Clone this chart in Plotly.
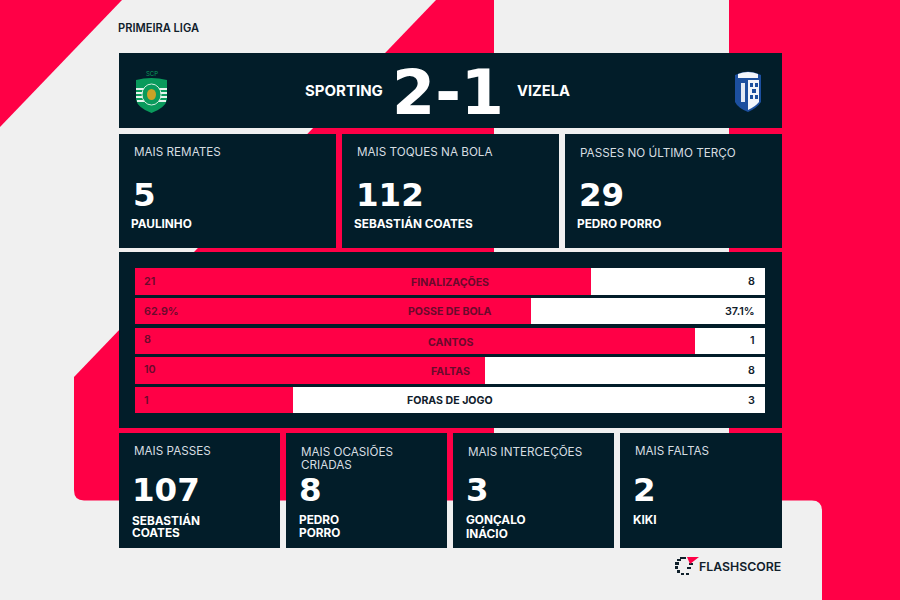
import plotly.graph_objects as go

RED = "#ff0046"
NAVY = "#021d29"
LIGHT = "#f0f0f0"
FONT = "Inter"
DIGITS = "DejaVu Sans"

stat_names = ["FINALIZAÇÕES", "POSSE DE BOLA", "CANTOS", "FALTAS", "FORAS DE JOGO"]
home_values = [21, 62.9, 8, 10, 1]
away_values = [8, 37.1, 1, 8, 3]
home_labels = ["21", "62.9%", "8", "10", "1"]
away_labels = ["8", "37.1%", "1", "8", "3"]

home_team = "SPORTING"
away_team = "VIZELA"
score = "2-1"
league = "PRIMEIRA LIGA"

top_titles = ["MAIS REMATES", "MAIS TOQUES NA BOLA", "PASSES NO ÚLTIMO TERÇO"]
top_numbers = ["5", "112", "29"]
top_players = ["PAULINHO", "SEBASTIÁN COATES", "PEDRO PORRO"]

bottom_titles = [["MAIS PASSES"], ["MAIS OCASIÕES", "CRIADAS"], ["MAIS INTERCEÇÕES"], ["MAIS FALTAS"]]
bottom_numbers = ["107", "8", "3", "2"]
bottom_players = [["SEBASTIÁN", "COATES"], ["PEDRO", "PORRO"], ["GONÇALO", "INÁCIO"], ["KIKI"]]


# picture pixels to paper coordinates
def px(x):
    return x / 900


def py(y):
    return 1 - y / 600


def path(cmds, color, line=None):
    parts = []
    for c in cmds:
        if len(c) == 1:
            parts.append(c[0])
        else:
            nums = [px(v) if i % 2 == 0 else py(v) for i, v in enumerate(c[1:])]
            parts.append(c[0] + " " + " ".join(f"{n:.5f}" for n in nums))
    return dict(type="path", path=" ".join(parts), xref="paper", yref="paper",
                fillcolor=color, line=dict(width=0) if line is None else line, layer="below")


def rect(x0, y0, x1, y1, color):
    return dict(type="rect", xref="paper", yref="paper", x0=px(x0), x1=px(x1), y0=py(y1), y1=py(y0),
                fillcolor=color, line=dict(width=0), layer="below")


shapes = [
    path([("M", 0, 0), ("L", 122, 0), ("L", 0, 127), ("Z",)], RED),
    path([("M", 436, 0), ("L", 494, 0), ("L", 494, 500.5), ("L", 84, 500.5), ("Q", 74, 500.5, 74, 490),
          ("L", 74, 377), ("Z",)], RED),
    path([("M", 729, 0), ("L", 900, 0), ("L", 900, 600), ("L", 822, 600), ("L", 822, 511),
          ("Q", 822, 500.5, 812, 500.5), ("L", 729, 500.5), ("Z",)], RED),
    rect(119, 53, 782, 128, NAVY),
    rect(119, 252, 782, 428, NAVY),
]

top_x = [(119, 336), (342, 559), (565, 782)]
bottom_x = [(119, 280), (286, 447), (453, 614), (620, 782)]
for x0, x1 in top_x:
    shapes.append(rect(x0, 134, x1, 248, NAVY))
for x0, x1 in bottom_x:
    shapes.append(rect(x0, 433, x1, 548, NAVY))

# sporting crest
GREEN = "#0a9a5c"
shapes += [
    path([("M", 136, 80), ("Q", 151, 76, 167, 80), ("L", 167, 100), ("Q", 165, 108, 151.5, 113),
          ("Q", 138, 108, 136, 100), ("Z",)], GREEN),
    rect(136, 88, 167, 90, "#e8f4ee"),
    rect(136, 92, 167, 94, "#e8f4ee"),
    rect(136, 96, 167, 98, "#e8f4ee"),
    rect(137, 100, 166, 102, "#e8f4ee"),
    dict(type="circle", xref="paper", yref="paper", x0=px(142), x1=px(161), y0=py(105), y1=py(84),
         fillcolor=GREEN, line=dict(color="#d5eee0", width=1), layer="below"),
    dict(type="circle", xref="paper", yref="paper", x0=px(147), x1=px(156), y0=py(100), y1=py(89),
         fillcolor="#c9a227", line=dict(width=0), layer="below"),
]

# vizela crest
BLUE = "#1c4f9e"
shapes += [
    path([("M", 735, 75), ("Q", 748, 68, 761, 75), ("L", 761, 102), ("Q", 757, 108, 748, 112),
          ("Q", 738, 108, 735, 102), ("Z",)], BLUE),
    path([("M", 748, 80), ("L", 759, 80), ("L", 759, 102), ("Q", 755, 107, 748, 110), ("Z",)], "#f2f5fa"),
    path([("M", 738, 74), ("Q", 748, 70, 758, 74), ("L", 758, 78), ("L", 738, 78), ("Z",)], "#f2f5fa"),
    rect(741, 83, 745, 102, "#e3e9f3"),
    rect(750, 83, 753, 87, BLUE),
    rect(755, 83, 758, 87, BLUE),
    rect(752, 89, 756, 93, BLUE),
    rect(750, 95, 753, 99, BLUE),
    rect(755, 95, 758, 99, BLUE),
]

# flashscore mark: broken ring and red flag
for x0, y0, x1, y1 in [(675, 566, 678, 569), (677, 570, 680, 573), (681, 573, 684, 575), (686, 573, 689, 575),
                       (675, 562, 679, 565), (677, 559, 681, 561), (680, 557, 686, 559), (689, 563, 693, 565),
                       (687, 567, 691, 569)]:
    shapes.append(rect(x0, y0, x1, y1, "#10202b"))
shapes.append(path([("M", 687, 557), ("L", 699, 557), ("L", 690, 564), ("Z",)], RED))


def text(x, y, s, size, color="#ffffff", weight=400, anchor="left", family=FONT):
    return dict(text=s, x=px(x), y=py(y), xref="paper", yref="paper", showarrow=False, xanchor=anchor,
                yanchor="middle", align=anchor, font=dict(family=family, size=size, color=color, weight=weight))


annotations = [
    text(116, 28, league, 11.1, "#10202b", 600),
    text(385, 91, home_team, 15, "#ffffff", 700, "right"),
    text(515, 91, away_team, 14.7, "#ffffff", 700),
    text(448, 92, score, 62, "#ffffff", 700, "center", DIGITS),
    text(151.5, 73.5, "SCP", 6, GREEN, 400, "center"),
    text(697, 566, "FLASHSCORE", 12.3, "#10202b", 600),
]

for i in range(3):
    x0 = top_x[i][0]
    annotations.append(text(x0 + 13, 152, top_titles[i], 11.7, "#d6dde1"))
    annotations.append(text(x0 + 12, 195, top_numbers[i], 32.5, "#ffffff", 700, family=DIGITS))
    annotations.append(text(x0 + 10, 224, top_players[i], 11.8, "#ffffff", 700))

for i in range(4):
    x0 = bottom_x[i][0]
    for j, line in enumerate(bottom_titles[i]):
        annotations.append(text(x0 + 12.5, 451 + 14 * j, line, 11.7, "#d6dde1"))
    annotations.append(text(x0 + 11, 490, bottom_numbers[i], 32.5, "#ffffff", 700, family=DIGITS))
    for j, line in enumerate(bottom_players[i]):
        annotations.append(text(x0 + 10.5, 520 + 13 * j, line, 11.8, "#ffffff", 700))

# small vertical offsets of the row labels, as in the picture
name_shift = [-1, 0, -2, -1, 0]
home_shift = [0, 0, 1, 1, 0]
for i, name in enumerate(stat_names):
    dark = "#10202b" if name == "FORAS DE JOGO" else "#6a0a2c"
    annotations.append(dict(text=name, x=0.5, y=name, xref="paper", yref="y", showarrow=False, yshift=name_shift[i],
                            font=dict(family=FONT, size=10.6, color=dark, weight=700)))
    annotations.append(dict(text=home_labels[i], x=px(142), y=name, xref="paper", yref="y", showarrow=False,
                            xanchor="left", yshift=home_shift[i],
                            font=dict(family=FONT, size=10.8, color="#6a0a2c", weight=600)))
    annotations.append(dict(text=away_labels[i], x=px(757), y=name, xref="paper", yref="y", showarrow=False,
                            xanchor="right", font=dict(family=FONT, size=10.8, color="#10202b", weight=600)))

fig = go.Figure()
fig.add_trace(go.Bar(y=stat_names, x=home_values, orientation="h", marker=dict(color=RED, line=dict(width=0))))
fig.add_trace(go.Bar(y=stat_names, x=away_values, orientation="h", marker=dict(color="#ffffff", line=dict(width=0))))

fig.update_layout(
    width=900, height=600,
    margin=dict(l=0, r=0, t=0, b=0),
    paper_bgcolor=LIGHT,
    plot_bgcolor="rgba(0,0,0,0)",
    barmode="stack",
    barnorm="percent",
    bargap=0.108,
    showlegend=False,
    shapes=shapes,
    annotations=annotations,
    xaxis=dict(domain=[px(135), px(765)], range=[0, 100], visible=False, fixedrange=True),
    yaxis=dict(domain=[py(415), py(266.5)], autorange="reversed", visible=False, fixedrange=True),
)

# the page has a default body margin, the picture is full bleed
fig.write_html("out.html", config=dict(displayModeBar=False),
               post_script="document.body.style.margin='0';document.body.style.background='#f0f0f0';")
